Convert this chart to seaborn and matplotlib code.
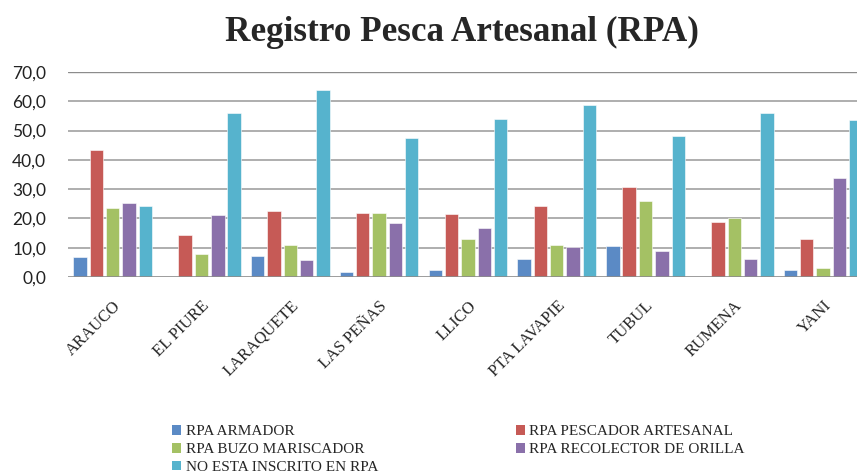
import pandas as pd
import numpy as np
import matplotlib
matplotlib.use("Agg")
import matplotlib.pyplot as plt
import seaborn as sns
from matplotlib.patches import Patch

# -----------------------------
# Datos
caletas = ['ARAUCO', 'EL PIURE', 'LARAQUETE', 'LAS PEÑAS', 'LLICO',
           'PTA LAVAPIE', 'TUBUL', 'RUMENA', 'YANI']
categorias = ['RPA ARMADOR', 'RPA PESCADOR ARTESANAL', 'RPA BUZO MARISCADOR',
              'RPA RECOLECTOR DE ORILLA', 'NO ESTA INSCRITO EN RPA']

armador = [6.8, 0.0, 7.2, 1.6, 2.5, 6.1, 10.7, 0.0, 2.3]
pescador = [43.5, 14.5, 22.5, 21.9, 21.5, 24.4, 30.6, 18.8, 13.1]
buzo = [23.6, 7.9, 10.9, 21.9, 13.1, 11.0, 26.1, 20.0, 3.0]
recolector = [25.3, 21.2, 5.8, 18.3, 16.6, 10.2, 9.0, 6.1, 33.8]
no_inscrito = [24.4, 56.1, 63.8, 47.5, 53.9, 58.9, 48.1, 56.1, 53.7]

colores = ['#5B8AC5', '#C65A56', '#A4C164', '#8A70AA', '#56B3CD']

# -----------------------------
# DataFrame largo para seaborn
series = [armador, pescador, buzo, recolector, no_inscrito]
df = pd.DataFrame({
    'Caleta': caletas * len(categorias),
    'Categoria': np.repeat(categorias, len(caletas)),
    'Porcentaje': np.concatenate(series),
})

sns.set_style("white")

fig = plt.figure(figsize=(8.57, 4.74), dpi=100)
ax = fig.add_axes([0.0797, 0.4156, 0.9326, 0.4325])

sns.barplot(data=df, x='Caleta', y='Porcentaje', hue='Categoria',
            hue_order=categorias, order=caletas, palette=colores,
            saturation=1, width=0.92, gap=0.18, ax=ax, legend=False,
            edgecolor='white', linewidth=0.4)

ax.set_xlim(-0.5, len(caletas) - 0.5)
ax.set_ylim(0, 70)
ax.set_yticks(np.arange(0, 71, 10))
ax.set_yticklabels([f"{v:.1f}".replace('.', ',') for v in np.arange(0, 71, 10)],
                   fontsize=12.5, family='Lato', color='#222222')
ax.tick_params(axis='y', length=0, pad=16)
ax.tick_params(axis='x', length=0, pad=15)
ax.set_xticks(range(len(caletas)))
ax.set_xticklabels(caletas, rotation=45, ha='right', rotation_mode='anchor',
                   fontsize=12, family='Liberation Serif')
ax.set_xlabel('')
ax.set_ylabel('')

# líneas de grilla
ax.grid(False)
for v in range(10, 70, 10):
    ax.axhline(v, color='#A8A8A8', lw=1.3, zorder=0)
ax.axhline(70, color='#8C8C8C', lw=1.0, zorder=0)
ax.axhline(0, color='#8C8C8C', lw=1.2, zorder=3)
for s in ax.spines.values():
    s.set_visible(False)

# título
fig.text(462 / 857, 1 - 32 / 474, 'Registro Pesca Artesanal (RPA)',
         ha='center', va='center', fontsize=25.3, fontweight='bold',
         family='Liberation Serif')

# leyenda (orden por filas)
handles = [Patch(facecolor=c, edgecolor='none') for c in colores]
orden = [0, 2, 4, 1, 3]
fig.legend([handles[i] for i in orden], [categorias[i] for i in orden],
           ncol=2, loc='upper left', bbox_to_anchor=(172 / 857, 1 - 425 / 474),
           frameon=False, prop={'family': 'Liberation Serif', 'size': 11},
           handlelength=0.6, handleheight=0.6, handletextpad=0.3,
           labelspacing=0.3, columnspacing=9.0, borderaxespad=0, borderpad=0)

fig.savefig('out.png', dpi=100)
